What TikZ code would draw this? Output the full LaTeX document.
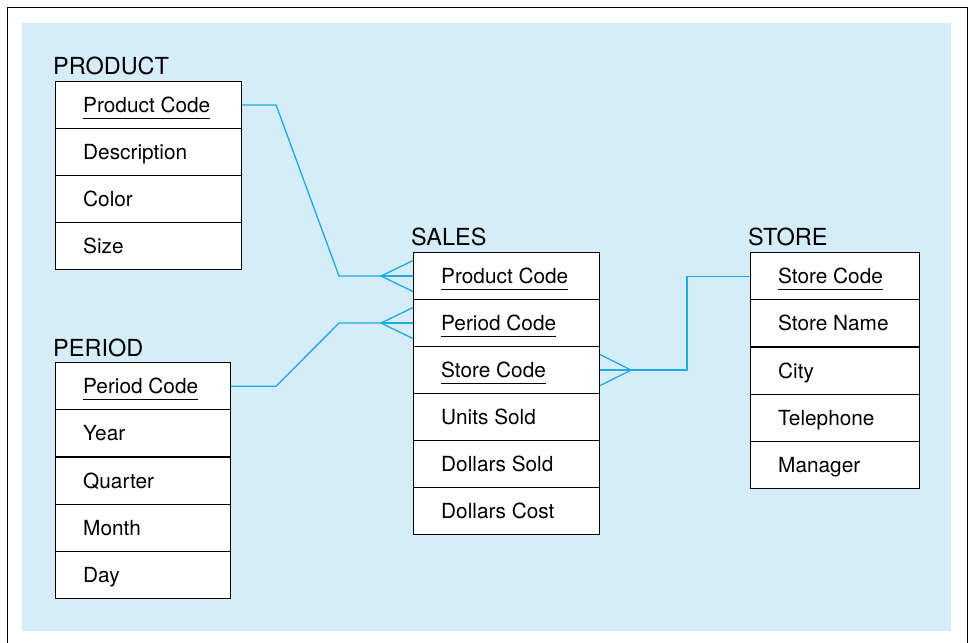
\documentclass[tikz,border=0pt]{standalone}
\usepackage{fontspec}
\setmainfont{TeX Gyre Heros}
\usetikzlibrary{calc}
\definecolor{bgblue}{RGB}{213,236,249}
\definecolor{linkblue}{RGB}{28,172,228}
\newcommand{\ertable}[7]{%
  \foreach \txt [count=\i] in {#7} {
    \node[cell, minimum width=#4pt, minimum height=#5pt] (#1\i) at (#2, {#3+(\i-1)*#5}) {};
    \node[txt] (#1\i t) at ($(#1\i.west)+(28,7.5)$) {\txt};
    \ifnum\i>#6\relax\else
      \draw[uline] ($(#1\i t.base west)+(0,6)$) -- ($(#1\i t.base east)+(0,6)$);
    \fi
  }}
\begin{document}
\begin{tikzpicture}[x=1pt,y=-1pt,
  cell/.style={draw=black, fill=white, line width=1.1pt, inner sep=0pt, anchor=north west},
  txt/.style={anchor=base west, inner sep=0pt, font=\fontsize{20.8}{24}\selectfont},
  ttl/.style={anchor=base west, inner sep=0pt, font=\fontsize{23.5}{27}\selectfont},
  uline/.style={line width=1.1pt},
  link/.style={draw=linkblue, line width=1.3pt, line join=miter}]
\useasboundingbox (0,0) rectangle (970,643);
\draw[line width=1.4pt] (7.5,7.5) rectangle (967.5,660);
\fill[bgblue] (22,23) rectangle (951,631);

% titles
\node[ttl] (prodT) at (53,74) {PRODUCT};
\node[ttl] (perT) at (53,356) {PERIOD};
\node[ttl] (salT) at (411,245) {SALES};
\node[ttl] (stoT) at (748,245) {STORE};

% tables
\ertable{pr}{55}{81}{186}{47}{1}{Product Code,Description,Color,Size}
\ertable{pe}{55}{362}{175}{47.2}{1}{Period Code,Year,Quarter,Month,Day}
\ertable{sa}{413}{252}{186}{47}{3}{Product Code,Period Code,Store Code,Units Sold,Dollars Sold,Dollars Cost}
\ertable{st}{750}{252}{169}{47.2}{1}{Store Code,Store Name,City,Telephone,Manager}

% crow's foot points
\coordinate (cfA) at ($(sa1.west)+(-32,0)$);
\coordinate (cfB) at ($(sa2.west)+(-32,0)$);
\coordinate (cfC) at ($(sa3.east)+(31,0)$);

% PRODUCT -> SALES
\draw[link] (pr1.east) -- ++(34,0) -- ($(sa1.west)+(-74,0)$) -- (cfA);
\draw[link] ($(sa1.west)+(0,-15.5)$) -- (cfA) -- ($(sa1.west)+(0,15.5)$);
\draw[link] (cfA) -- (sa1.west);

% PERIOD -> SALES
\draw[link] (pe1.east) -- ++(45,0) -- ($(sa2.west)+(-74,0)$) -- (cfB);
\draw[link] ($(sa2.west)+(0,-15.5)$) -- (cfB) -- ($(sa2.west)+(0,15.5)$);
\draw[link] (cfB) -- (sa2.west);

% SALES -> STORE
\draw[link] ($(sa3.east)+(0,-15.5)$) -- (cfC) -- ($(sa3.east)+(0,15.5)$);
\draw[link] (sa3.east) -- (cfC) -- ++(56,0) |- (st1.west);
\end{tikzpicture}
\end{document}
